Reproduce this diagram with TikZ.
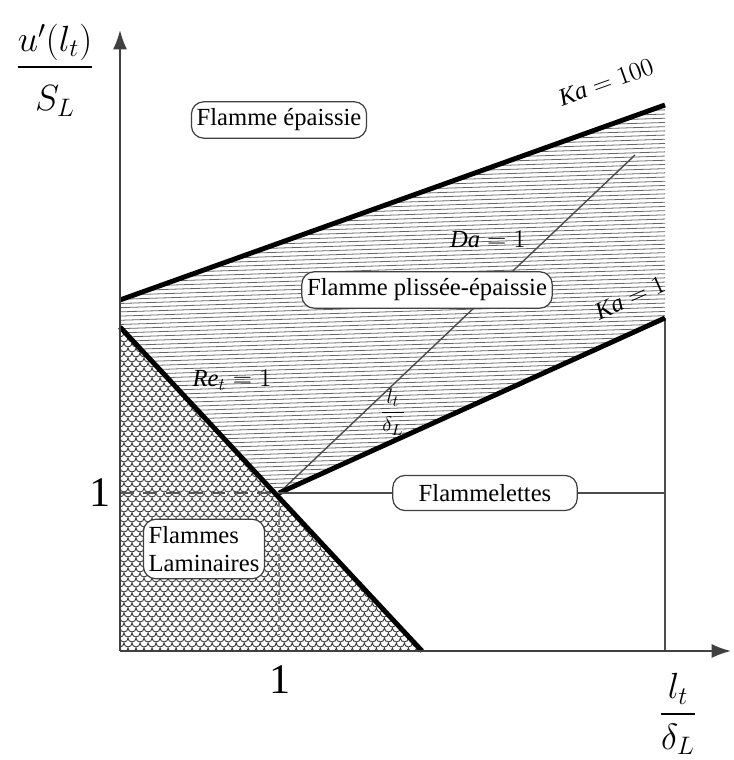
\documentclass[tikz,border=0pt]{standalone}
\usepackage{amsmath}
\usepackage{fontspec}
\setmainfont{Liberation Serif}
\usetikzlibrary{arrows.meta,positioning,calc}

\tikzset{
  regionbox/.style={
    draw=black!75,
    line width=0.7pt,
    rounded corners=7pt,
    fill=white,
    font=\fontsize{14}{16}\selectfont,
    inner xsep=3pt,
    inner ysep=4pt
  },
  border/.style={line width=2.8pt, black},
  axisline/.style={line width=1.1pt, black!75, -{Latex[length=11pt,width=8pt]}},
  hatchline/.style={line width=0.45pt, black!60},
  scaleline/.style={line width=0.5pt, black!80},
  thinline/.style={line width=0.9pt, black!70},
  curvelabel/.style={font=\fontsize{14}{16}\selectfont},
  unitlabel/.style={font=\fontsize{24}{26}\selectfont}
}

\begin{document}
\begin{tikzpicture}[
    x=0.02cm,
    y=0.02cm
]

\useasboundingbox (0,0) rectangle (733,760);

% =========================
% KEY POINTS
% =========================
\coordinate (O) at (120,109);
\coordinate (P11) at (279,267);
\coordinate (ReTop) at (120,433);
\coordinate (ReBot) at (422,109);
\coordinate (KaHiL) at (120,460);
\coordinate (KaHiR) at (665,655);
\coordinate (KaLoR) at (665,442);
\coordinate (DaEnd) at (635,605);
\coordinate (Ytip) at (120,730);
\coordinate (Xtip) at (731,109);
\coordinate (Xmax) at (665,109);
\coordinate (Yone) at (120,267);
\coordinate (Xone) at (279,125);
\coordinate (Rone) at (665,267);

% =========================
% HATCHED ZONE (plissee-epaissie)
% =========================
\begin{scope}
\clip (KaHiL) -- (KaHiR) -- (KaLoR) -- (P11) -- (ReTop) -- cycle;
\foreach \k in {0,...,112} {
  \draw[hatchline] (110,{200+4.2*\k}) -- ++(570,18);
}
\end{scope}

% =========================
% SCALES ZONE (laminaire)
% =========================
\begin{scope}
\clip (O) -- (ReTop) -- (ReBot) -- cycle;
\foreach \r in {0,...,66} {
  \pgfmathsetmacro{\yy}{112+5*\r}
  \pgfmathsetmacro{\sh}{4*mod(\r,2)}
  \draw[scaleline] (112+\sh,\yy)
    \foreach \c in {0,...,39} {arc[start angle=180,end angle=360,radius=2.28pt]};
}
\end{scope}

% dashed guides at 1
\draw[thinline, black!65, dash pattern=on 8pt off 5pt] (Yone) -- (P11);
\draw[line width=0.7pt, black!50, dash pattern=on 3pt off 2pt] (P11) -- (Xone);

% =========================
% BOUNDARIES
% =========================
\draw[line width=0.8pt, black!70] (P11) -- (DaEnd);
\draw[thinline] (Xmax) -- (KaLoR);
\draw[border] (KaHiL) -- (KaHiR);
\draw[border] (P11) -- (KaLoR);
\draw[border] (ReTop) -- (ReBot);

% =========================
% AXES
% =========================
\draw[axisline] (O) -- (Ytip);
\draw[axisline] (O) -- (Xtip);

\node[unitlabel] (xone) at (280,80) {1};
\node[unitlabel] (yone) at (100,267) {1};

\node[font=\fontsize{22}{24}\selectfont] (ylab) at (55,690)
{$\dfrac{u'(l_t)}{\rule{0pt}{22pt}S_L}$};

\node[font=\fontsize{22}{24}\selectfont] (xlab) at (678,46)
{$\dfrac{l_t}{\rule{0pt}{17pt}\delta_L}$};

% =========================
% REGIONS
% =========================
\node[regionbox] (epaisse) at (279,640) {Flamme épaissie};

\node[regionbox] (plissee) at (427,470) {Flamme plissée-épaissie};

\node[regionbox, minimum width=105pt, minimum height=20pt] (flamlet) at (485,267)
{Flammelettes};
\draw[thinline] (P11) -- (flamlet.west);
\draw[thinline] (flamlet.east) -- (Rone);

\node[regionbox, align=left] (laminaire) at (204,211)
{Flammes\\Laminaires};

% =========================
% CURVE LABELS
% =========================
\node[curvelabel, rotate=19.7] (kahi) at (606,678) {$\mathit{Ka} = 100$};
\node[curvelabel, rotate=24] (kalo) at (630,462) {$\mathit{Ka} = 1$};
\node[curvelabel] (da) at (488,521) {$\mathit{Da} = 1$};
\node[curvelabel] (re) at (232,380) {$\mathit{Re}_t = 1$};
\node[font=\fontsize{13}{15}\selectfont] (ratio) at (393,348) {$\dfrac{l_t}{\delta_L}$};

\end{tikzpicture}
\end{document}
